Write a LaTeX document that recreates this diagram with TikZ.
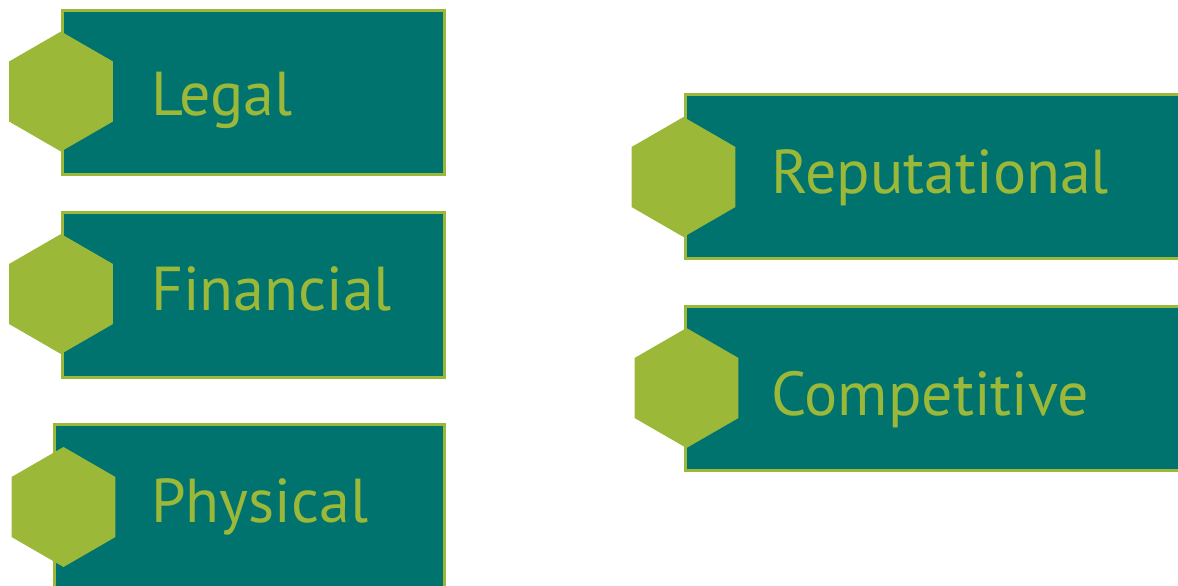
\documentclass[tikz,border=0pt]{standalone}
\usepackage{fontspec}
\setmainfont{PT Sans}
\usetikzlibrary{shapes.geometric}
\definecolor{teal0}{HTML}{00736F}
\definecolor{lime0}{HTML}{9BB838}
\tikzset{
  panel/.style={fill=teal0, draw=lime0, line width=3pt},
  hexa/.style={regular polygon, regular polygon sides=6, shape border rotate=30,
     fill=lime0, draw=none, inner sep=0pt, minimum size=120pt},
  label/.style={anchor=base west, inner sep=0pt, text=lime0, font=\fontsize{62}{62}\selectfont}
}
\begin{document}
\begin{tikzpicture}[x=1pt,y=-1pt]
\useasboundingbox (0,0) rectangle (1178,586);
\clip (0,0) rectangle (1178,586);
\draw[panel] (62.5,10.5) rectangle (444.5,174.5);
\draw[panel] (62.5,212.5) rectangle (444.5,377.5);
\draw[panel] (54.5,424.5) rectangle (444.5,600);
\draw[panel] (685.5,94.5) rectangle (1190,258.5);
\draw[panel] (685.5,306.5) rectangle (1190,470.5);
\node[hexa] (h1) at (61,91.5) {};
\node[hexa] (h2) at (61,294) {};
\node[hexa] (h3) at (63.5,507) {};
\node[hexa] (h4) at (683.5,177) {};
\node[hexa] (h5) at (686.5,388) {};
\node[label] (t1) at (151,115) {Legal};
\node[label] (t2) at (151,310) {Financial};
\node[label] (t3) at (151,522) {Physical};
\node[label] (t4) at (771,193) {Reputational};
\node[label] (t5) at (771,415) {Competitive};
\end{tikzpicture}
\end{document}
